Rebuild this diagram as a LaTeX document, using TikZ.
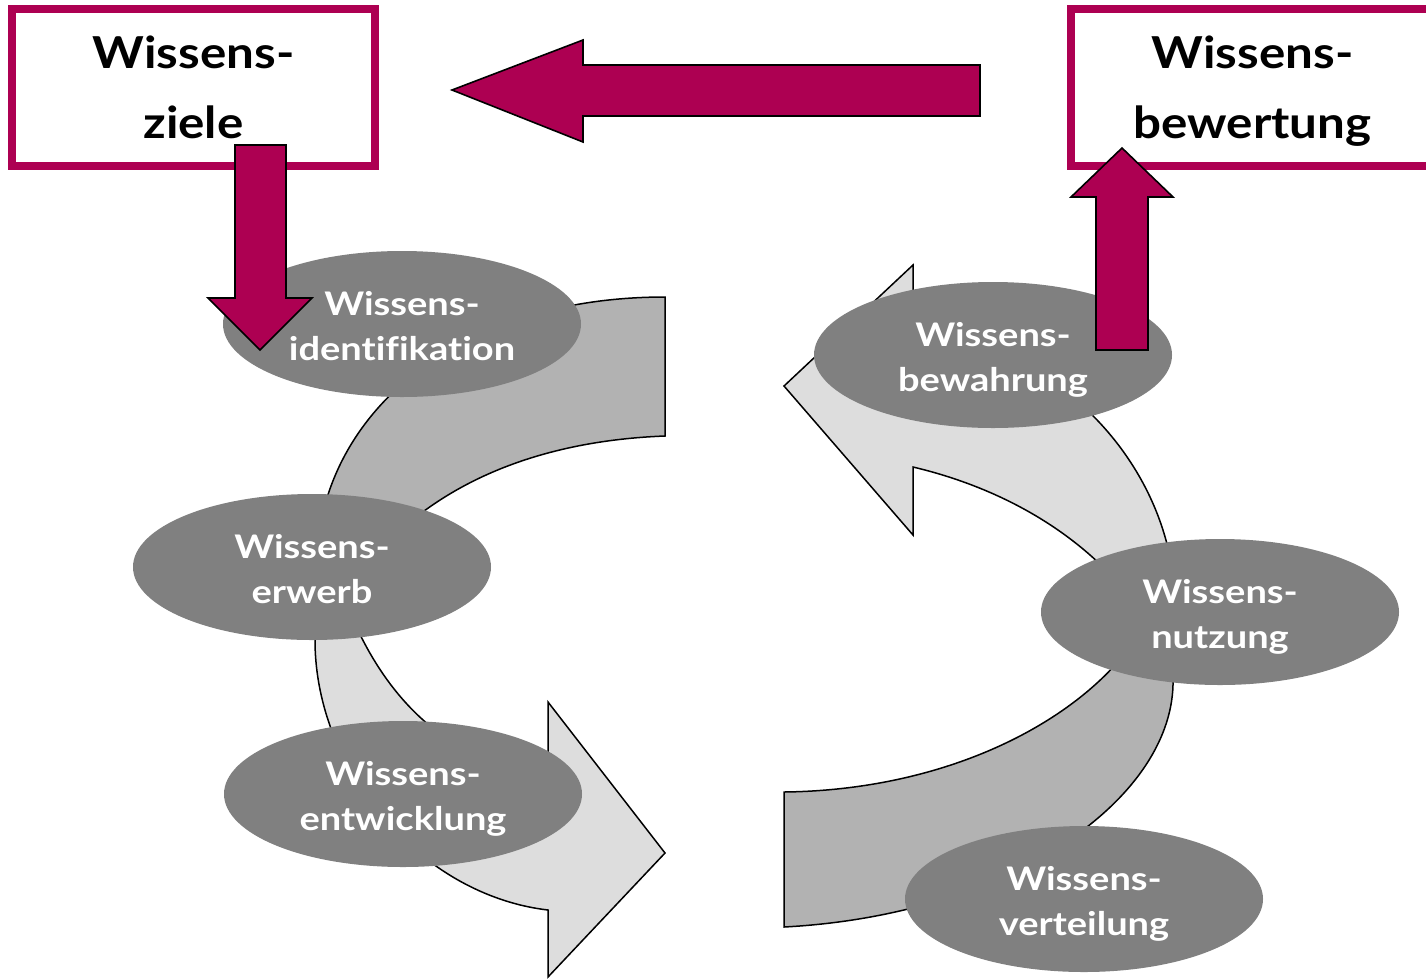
\documentclass[tikz,border=0pt]{standalone}
\usepackage{fontspec}
\setmainfont{Lato}
\newfontfamily\phasefont{Lato}[FakeStretch=1.17, Ligatures=NoCommon]
\newfontfamily\goalfont{Lato}[FakeStretch=1.12, Ligatures=NoCommon]
\usetikzlibrary{shapes.geometric}
\definecolor{wmag}{RGB}{173,0,82}
\definecolor{ellgray}{RGB}{128,128,128}
\definecolor{darkband}{RGB}{178,178,178}
\definecolor{lightband}{RGB}{221,221,221}
\newcommand\elstrut{\rule[-8pt]{0pt}{43pt}}
\newcommand\boxstrut{\rule[-12pt]{0pt}{56pt}}
\begin{document}
\begin{tikzpicture}[x=1pt,y=-1pt,
  phase/.style={ellipse, fill=ellgray, minimum width=358pt, minimum height=146pt, inner sep=0pt,
    text=white, font=\phasefont\bfseries\fontsize{32.5}{45}\selectfont, align=center},
  goalbox/.style={rectangle, draw=wmag, line width=8pt, fill=white, minimum width=363pt,
    minimum height=157pt, inner sep=0pt, font=\goalfont\bfseries\fontsize{44}{70}\selectfont, align=center},
  band/.style={draw=black, line width=1.5pt, line join=miter},
  magarrow/.style={fill=wmag, draw=black, line width=1.6pt, line join=miter}
]
\clip (0,0) rectangle (1426,978);
\fill[white] (0,0) rectangle (1426,978);

% curved process arrows
\draw[band, fill=darkband] (665,297) -- (665,436) .. controls (560,440) and (465,470) .. (395,535)
  -- (318,540) .. controls (335,400) and (470,297) .. (665,297) -- cycle;
\draw[band, fill=lightband] (345,600) -- (315,600) -- (315,640) .. controls (315,770) and (420,895) .. (548,910)
  -- (548,977) -- (665,853) -- (548,702) -- (548,775) .. controls (455,765) and (385,705) .. (345,600) -- cycle;
\draw[band, fill=lightband] (913,330) -- (913,265) -- (784,386) -- (913,535) -- (913,467)
  .. controls (1010,490) and (1090,540) .. (1140,610) -- (1175,610)
  .. controls (1177,475) and (1065,345) .. (913,330) -- cycle;
\draw[band, fill=darkband] (784,792) .. controls (950,790) and (1080,720) .. (1135,640) -- (1175,640)
  -- (1173,685) .. controls (1170,800) and (1010,915) .. (784,927) -- cycle;

% phases
\node[phase] (ident) at (402,324) {\elstrut Wissens-\\identifikation\elstrut};
\node[phase] (erwerb) at (312,567) {\elstrut Wissens-\\erwerb\elstrut};
\node[phase] (entw) at (403,794) {\elstrut Wissens-\\entwicklung\elstrut};
\node[phase] (bewahr) at (993,355) {\elstrut Wissens-\\bewahrung\elstrut};
\node[phase] (nutz) at (1220,612) {\elstrut Wissens-\\nutzung\elstrut};
\node[phase] (verteil) at (1084,899) {\elstrut Wissens-\\verteilung\elstrut};

% goal boxes
\node[goalbox] (ziele) at (193.5,87.5) {\boxstrut Wissens-\\ziele\boxstrut};
\node[goalbox] (bewert) at (1252.5,87.5) {\boxstrut Wissens-\\bewertung\boxstrut};

% magenta arrows
\draw[magarrow] (980,65) -- (583,65) -- (583,40) -- (452,90) -- (583,142) -- (583,116) -- (980,116) -- cycle;
\draw[magarrow] (235,145) -- (286,145) -- (286,298) -- (312,298) -- (260,350) -- (208,298) -- (235,298) -- cycle;
\draw[magarrow] (1096,350) -- (1148,350) -- (1148,197) -- (1173,197) -- (1122,148) -- (1071,197) -- (1096,197) -- cycle;
\end{tikzpicture}
\end{document}
